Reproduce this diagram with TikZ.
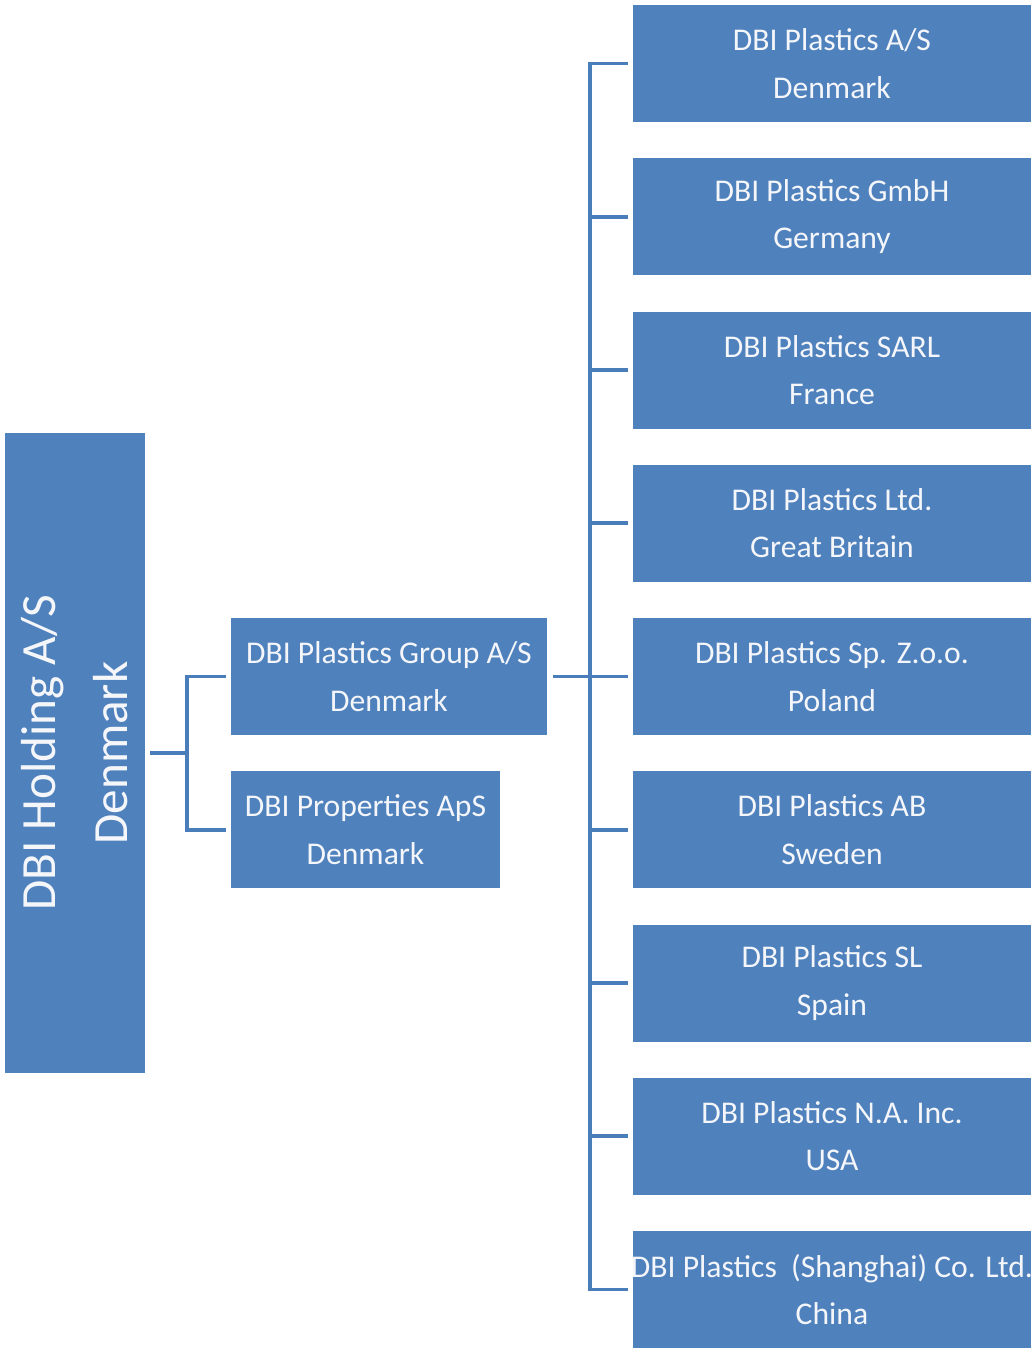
\documentclass[tikz,border=0pt]{standalone}
\usepackage{fontspec}
\setmainfont{Carlito}
\usetikzlibrary{positioning}
\definecolor{cBox}{HTML}{4F81BD}
\definecolor{cLink}{HTML}{4A7EBB}
\definecolor{cText}{HTML}{F4F6FA}

\begin{document}
\begin{tikzpicture}[every node/.style={inner xsep=0pt,inner ysep=2pt,outer sep=0pt,align=center,text=cText},
    box/.style={fill=cBox,minimum width=7.96cm,minimum height=2.34cm,font=\fontsize{18}{27}\selectfont},
    link/.style={draw=cLink,line width=2.1pt}]
        \useasboundingbox (0,0) rectangle (20.62,-26.98);
        % holding company, turned upright (south anchor is on the right)
        \node[box,rotate=90,minimum width=12.8cm,minimum height=2.8cm,font=\fontsize{28}{41}\selectfont] (hold) at (1.5,-15.06) {DBI Holding A/S\\Denmark};
        % subsidiaries of the group
        \node[box,anchor=north west] (dk) at (12.66,-0.1) {DBI Plastics A/S\\Denmark};
        \node[box,below=0.725cm of dk] (de) {DBI Plastics GmbH\\Germany};
        \node[box,below=0.725cm of de] (fr) {DBI Plastics SARL\\France};
        \node[box,below=0.725cm of fr] (gb) {DBI Plastics Ltd.\\Great Britain};
        \node[box,below=0.725cm of gb] (pl) {DBI Plastics Sp. Z.o.o.\\Poland};
        \node[box,below=0.725cm of pl] (se) {DBI Plastics AB\\Sweden};
        \node[box,below=0.725cm of se] (es) {DBI Plastics SL\\Spain};
        \node[box,below=0.725cm of es] (us) {DBI Plastics N.A. Inc.\\USA};
        \node[box,below=0.725cm of us] (cn) {\makebox[7.9cm][c]{DBI Plastics\ \ (Shanghai) Co. Ltd.}\\China};
        % middle level
        \node[box,minimum width=6.32cm,left=1.72cm of pl] (grp) {DBI Plastics Group A/S\\Denmark};
        \node[box,minimum width=5.38cm,left=2.66cm of se] (props) {DBI Properties ApS\\Denmark};
        % connectors
        \draw[link,shorten <=0.1cm] (hold.south) -- ++(0.84,0) coordinate (jh);
        \draw[link,shorten <=0.1cm,shorten >=0.1cm] (grp.west) -| (jh) |- (props.west);
        \draw[link,shorten <=0.12cm] (grp.east) -- ++(0.86,0) coordinate (jg);
        \draw[link,shorten >=0.1cm] (jg) |- (dk.west);
        \draw[link,shorten >=0.1cm] (jg) |- (de.west);
        \draw[link,shorten >=0.1cm] (jg) |- (fr.west);
        \draw[link,shorten >=0.1cm] (jg) |- (gb.west);
        \draw[link,shorten >=0.1cm] (jg) |- (pl.west);
        \draw[link,shorten >=0.1cm] (jg) |- (se.west);
        \draw[link,shorten >=0.1cm] (jg) |- (es.west);
        \draw[link,shorten >=0.1cm] (jg) |- (us.west);
        \draw[link,shorten >=0.1cm] (jg) |- (cn.west);
      \end{tikzpicture}
\end{document}
